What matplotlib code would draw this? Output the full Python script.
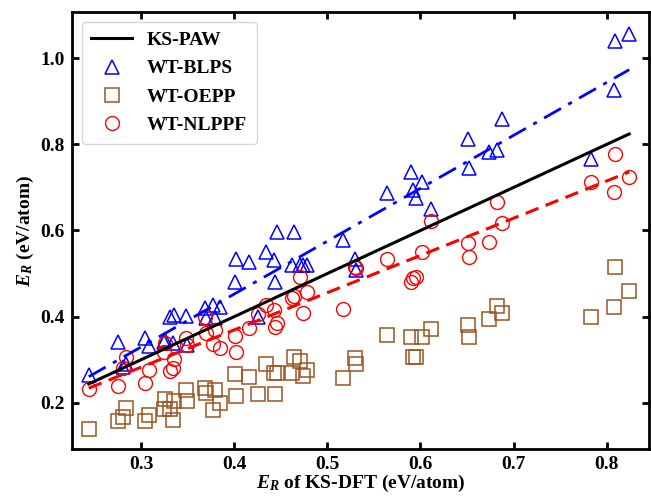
import numpy as np
import matplotlib
import matplotlib.pyplot as plt

matplotlib.use('Agg')

# KS-DFT reference energies (eV/atom)
ks_dft = [0.244, 0.275, 0.281, 0.284, 0.304, 0.309, 0.325, 0.326, 0.331, 0.334,
          0.336, 0.348, 0.349, 0.369, 0.370, 0.377, 0.379, 0.385, 0.401, 0.402,
          0.416, 0.426, 0.434, 0.443, 0.444, 0.446, 0.462, 0.464, 0.471, 0.474,
          0.478, 0.517, 0.530, 0.531, 0.564, 0.590, 0.592, 0.595, 0.602, 0.611,
          0.651, 0.652, 0.674, 0.682, 0.687, 0.783, 0.808, 0.809, 0.824]

wt_blps = [0.265, 0.342, 0.284, 0.290, 0.351, 0.331, 0.342, 0.345, 0.400, 0.338,
           0.404, 0.402, 0.335, 0.420, 0.396, 0.427, 0.396, 0.423, 0.481, 0.535,
           0.526, 0.400, 0.551, 0.532, 0.481, 0.597, 0.520, 0.597, 0.520, 0.520,
           0.520, 0.578, 0.535, 0.508, 0.686, 0.735, 0.694, 0.676, 0.713, 0.650,
           0.812, 0.744, 0.783, 0.787, 0.859, 0.767, 0.927, 1.040, 1.056]

wt_oepp = [0.139, 0.159, 0.168, 0.188, 0.159, 0.171, 0.185, 0.209, 0.186, 0.161,
           0.205, 0.229, 0.205, 0.234, 0.222, 0.184, 0.230, 0.199, 0.267, 0.215,
           0.261, 0.221, 0.290, 0.270, 0.221, 0.269, 0.270, 0.307, 0.298, 0.263,
           0.277, 0.257, 0.304, 0.290, 0.358, 0.352, 0.306, 0.306, 0.352, 0.371,
           0.381, 0.352, 0.394, 0.425, 0.408, 0.400, 0.422, 0.515, 0.460]

wt_nlppf = [0.232, 0.238, 0.280, 0.307, 0.246, 0.277, 0.319, 0.340, 0.273, 0.280,
            0.301, 0.350, 0.335, 0.400, 0.362, 0.336, 0.368, 0.327, 0.356, 0.319,
            0.373, 0.406, 0.426, 0.416, 0.377, 0.385, 0.443, 0.447, 0.491, 0.408,
            0.457, 0.418, 0.515, 0.512, 0.535, 0.481, 0.489, 0.493, 0.551, 0.623,
            0.572, 0.539, 0.574, 0.667, 0.617, 0.713, 0.690, 0.777, 0.723]

plt.rcParams['font.family'] = ['Liberation Serif', 'DejaVu Serif']
plt.rcParams['font.weight'] = 'bold'
plt.rcParams['mathtext.fontset'] = 'custom'
plt.rcParams['mathtext.rm'] = 'Liberation Serif:bold'
plt.rcParams['mathtext.it'] = 'Liberation Serif:bold:italic'
plt.rcParams['mathtext.bf'] = 'Liberation Serif:bold'

x = np.array(ks_dft)
xs = np.array([x.min(), x.max()])

fig = plt.figure(figsize=(6.51, 4.96), dpi=100)
ax = fig.add_axes([0.1106, 0.0948, 0.886, 0.881])

brown = '#9A5422'

ax.plot(xs, xs, color='black', lw=2.2, label='KS-PAW', zorder=3)
ax.plot(x, wt_blps, ls='none', marker='^', ms=10, mfc='none', mec='blue',
        mew=1.1, label='WT-BLPS')
ax.plot(x, wt_oepp, ls='none', marker='s', ms=9.5, mfc='none', mec=brown,
        mew=1.1, label='WT-OEPP')
ax.plot(x, wt_nlppf, ls='none', marker='o', ms=10, mfc='none', mec='red',
        mew=1.0, label='WT-NLPPF')

# линейные фиты
kb = np.polyfit(x, wt_blps, 1)
kn = np.polyfit(x, wt_nlppf, 1)
ax.plot(xs, np.polyval(kb, xs), color='blue', lw=2.0, ls=(0, (7, 3, 1.5, 3)), zorder=3)
ax.plot(xs, np.polyval(kn, xs), color='red', lw=2.2, ls=(0, (4.5, 2.5)), zorder=3)

ax.set_xlim(0.226, 0.845)
ax.set_ylim(0.093, 1.107)
ax.set_xticks([0.3, 0.4, 0.5, 0.6, 0.7, 0.8])
ax.set_yticks([0.2, 0.4, 0.6, 0.8, 1.0])
ax.tick_params(direction='in', top=True, right=True, length=5, width=2,
               labelsize=14, pad=5)
for s in ax.spines.values():
    s.set_linewidth(2)

ax.set_xlabel('$E_R$ of KS-DFT (eV/atom)', fontsize=14, fontweight='bold', labelpad=0)
ax.set_ylabel('$E_R$ (eV/atom)', fontsize=14, fontweight='bold', labelpad=3)

leg = ax.legend(loc='upper left', frameon=True, fancybox=True,
                handlelength=2.1, borderpad=0.5, labelspacing=0.55,
                borderaxespad=0.5, handletextpad=0.75,
                prop={'weight': 'bold', 'size': 14})
leg.get_frame().set_edgecolor('#cccccc')

fig.savefig('out.png', dpi=100)
plt.close(fig)
